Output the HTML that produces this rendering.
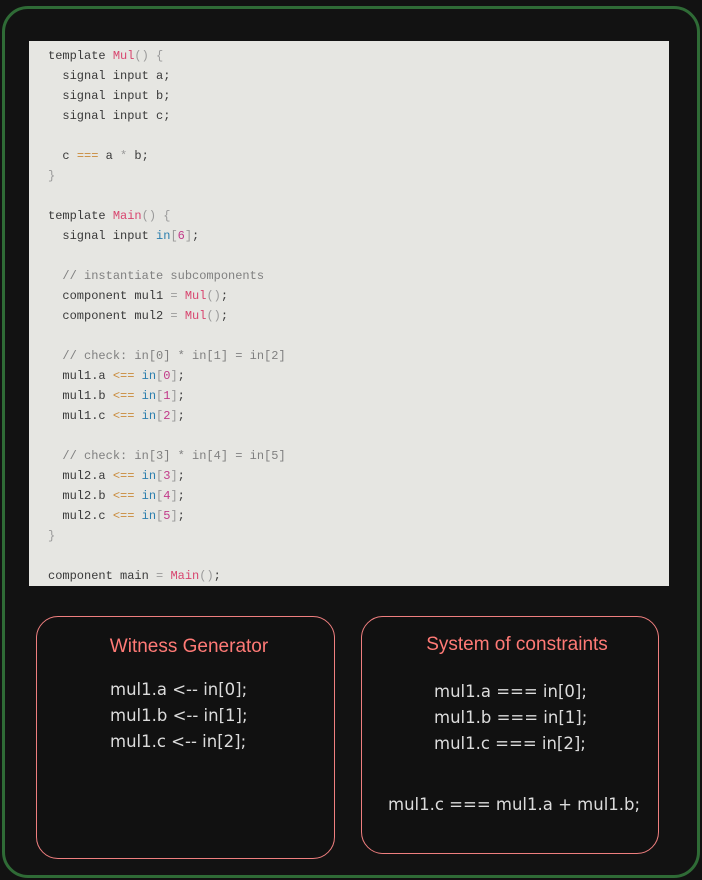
<!DOCTYPE html>
<html><head><meta charset="utf-8"><style>
body{margin:0;width:702px;height:880px;background:#121212;position:relative;overflow:hidden}
.outer{position:absolute;left:2px;top:6px;width:692px;height:866px;border:3px solid #2f6b36;border-radius:26px;background:#121212}
.code{position:absolute;left:29px;top:41px;width:640px;height:545px;background:#e6e6e2}
pre{margin:0;position:absolute;left:19px;top:5px;font:12px/20px "Liberation Mono",monospace;color:#3a3a3a}
.k{color:#d8456f}.p{color:#9a9a9a}.o{color:#c98a3a}.b{color:#2c7fae}.n{color:#c23a8a}.c{color:#808080}
.box{position:absolute;border:1.5px solid #ef7f7f;border-radius:22px;background:#111}
.t{position:absolute;font:19px "Liberation Sans",sans-serif;color:#ff7a76;white-space:nowrap;transform:translateX(-50%)}
.l{position:absolute;font:16.5px/26px "DejaVu Sans","Liberation Sans",sans-serif;color:#dcdcdc;white-space:pre}
</style></head><body>
<div class="outer"></div>
<div class="code"><pre>template <span class="k">Mul</span><span class="p">() {</span>
  signal input a;
  signal input b;
  signal input c;

  c <span class="o">===</span> a <span class="p">*</span> b;
<span class="p">}</span>

template <span class="k">Main</span><span class="p">() {</span>
  signal input <span class="b">in</span><span class="p">[</span><span class="n">6</span><span class="p">]</span>;

  <span class="c">// instantiate subcomponents</span>
  component mul1 <span class="p">=</span> <span class="k">Mul</span><span class="p">()</span>;
  component mul2 <span class="p">=</span> <span class="k">Mul</span><span class="p">()</span>;

  <span class="c">// check: in[0] * in[1] = in[2]</span>
  mul1.a <span class="o">&lt;==</span> <span class="b">in</span><span class="p">[</span><span class="n">0</span><span class="p">]</span>;
  mul1.b <span class="o">&lt;==</span> <span class="b">in</span><span class="p">[</span><span class="n">1</span><span class="p">]</span>;
  mul1.c <span class="o">&lt;==</span> <span class="b">in</span><span class="p">[</span><span class="n">2</span><span class="p">]</span>;

  <span class="c">// check: in[3] * in[4] = in[5]</span>
  mul2.a <span class="o">&lt;==</span> <span class="b">in</span><span class="p">[</span><span class="n">3</span><span class="p">]</span>;
  mul2.b <span class="o">&lt;==</span> <span class="b">in</span><span class="p">[</span><span class="n">4</span><span class="p">]</span>;
  mul2.c <span class="o">&lt;==</span> <span class="b">in</span><span class="p">[</span><span class="n">5</span><span class="p">]</span>;
<span class="p">}</span>

component main <span class="p">=</span> <span class="k">Main</span><span class="p">()</span>;</pre></div>
<div class="box" style="left:36px;top:616px;width:297px;height:241px"></div>
<div class="box" style="left:361px;top:616px;width:296px;height:236px"></div>
<div class="t" style="left:189px;top:636px">Witness Generator</div>
<div class="l" style="left:110px;top:677px">mul1.a &lt;-- in[0];
mul1.b &lt;-- in[1];
mul1.c &lt;-- in[2];</div>
<div class="t" style="left:517px;top:634px">System of constraints</div>
<div class="l" style="left:434px;top:679px">mul1.a === in[0];
mul1.b === in[1];
mul1.c === in[2];</div>
<div class="l" style="left:388px;top:792px">mul1.c === mul1.a + mul1.b;</div>
</body></html>
